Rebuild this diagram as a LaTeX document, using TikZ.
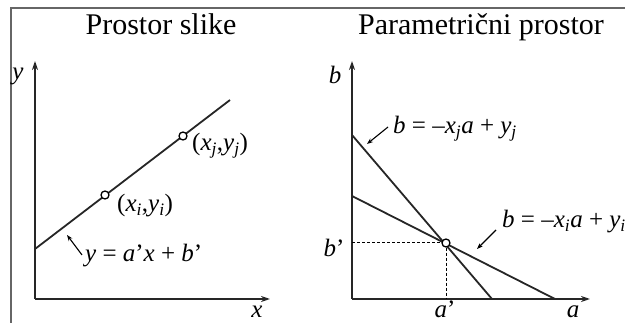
\documentclass[tikz,border=0pt]{standalone}
\usepackage{fontspec}
\setmainfont{Liberation Serif}
\usetikzlibrary{arrows.meta}
\newcommand{\vv}[1]{\textit{#1}}
\begin{document}
\begin{tikzpicture}[x=1pt,y=-1pt,
  axis/.style={line width=1.8pt,draw=black!85,-{Stealth[length=9pt,width=6pt]}},
  curve/.style={line width=1.8pt,draw=black!85},
  guide/.style={line width=1pt,dashed,dash pattern=on 3pt off 2pt},
  pointer/.style={line width=1.1pt,-{Stealth[length=6pt,width=4.5pt]}},
  dot/.style={circle,draw=black,line width=1.3pt,fill=white,inner sep=0pt,minimum size=8pt},
  title/.style={font=\fontsize{30}{34}\selectfont,anchor=base},
  lab/.style={font=\fontsize{25}{28}\selectfont,anchor=base,inner sep=0pt}]
\useasboundingbox (0,0) rectangle (625,323);
% frame
\draw[line width=1.5pt,draw=black!60] (11,323) -- (11,8) -- (625,8);
% titles
\node[title] (t1) at (161,35) {Prostor slike};
\node[title] (t2) at (481,35) {Parametrični prostor};
% left plot
\coordinate (o1) at (35,299);
\coordinate (ytop) at (35,61);
\coordinate (xend) at (270,299);
\draw[axis] (o1) -- (ytop);
\draw[axis] (o1) -- (xend);
\node[lab] (ly) at (18,80) {\vv{y}};
\node[lab] (lx) at (257,318) {\vv{x}};
\coordinate (l1) at (35,249);
\coordinate (l2) at (230,100);
\draw[curve] (l1) -- (l2);
\node[dot] (pi) at (105,195) {};
\node[dot] (pj) at (183,136) {};
\node[lab,anchor=base west] (lpi) at (117,212) {(\vv{x}\textsubscript{\vv{i}},\vv{y}\textsubscript{\vv{i}})};
\node[lab,anchor=base west] (lpj) at (192,151) {(\vv{x}\textsubscript{\vv{j}},\vv{y}\textsubscript{\vv{j}})};
\node[lab,anchor=base west] (eq1) at (85,262) {\vv{y} = \vv{a}’\vv{x} + \vv{b}’};
\coordinate (p1s) at (82,255);
\coordinate (p1e) at (67,235);
\draw[pointer] (p1s) -- (p1e);
% right plot
\coordinate (o2) at (352,299);
\coordinate (btop) at (352,61);
\coordinate (aend) at (590,299);
\draw[axis] (o2) -- (btop);
\draw[axis] (o2) -- (aend);
\node[lab] (lb) at (335,84) {\vv{b}};
\node[lab] (la) at (573,318) {\vv{a}};
\coordinate (j1) at (352,135);
\coordinate (j2) at (492,299);
\coordinate (i1) at (352,196);
\coordinate (i2) at (555,299);
\draw[curve] (j1) -- (j2);
\draw[curve] (i1) -- (i2);
\coordinate (bp) at (352,243);
\coordinate (ap) at (446,299);
\node[dot] (x0) at (446,243) {};
\draw[guide] (bp) -- (x0.west);
\draw[guide] (x0.south) -- (ap);
\node[lab] (lbp) at (334,257) {\vv{b}’};
\node[lab] (lap) at (445,318) {\vv{a}’};
\node[lab,anchor=base west] (eqj) at (393,134) {\vv{b} = –\vv{x}\textsubscript{\vv{j}}\vv{a} + \vv{y}\textsubscript{\vv{j}}};
\node[lab,anchor=base west] (eqi) at (502,228) {\vv{b} = –\vv{x}\textsubscript{\vv{i}}\vv{a} + \vv{y}\textsubscript{\vv{i}}};
\coordinate (pjs) at (388,127);
\coordinate (pje) at (367,144);
\draw[pointer] (pjs) -- (pje);
\coordinate (pis) at (496,230);
\coordinate (pie) at (477,249);
\draw[pointer] (pis) -- (pie);
\end{tikzpicture}
\end{document}
